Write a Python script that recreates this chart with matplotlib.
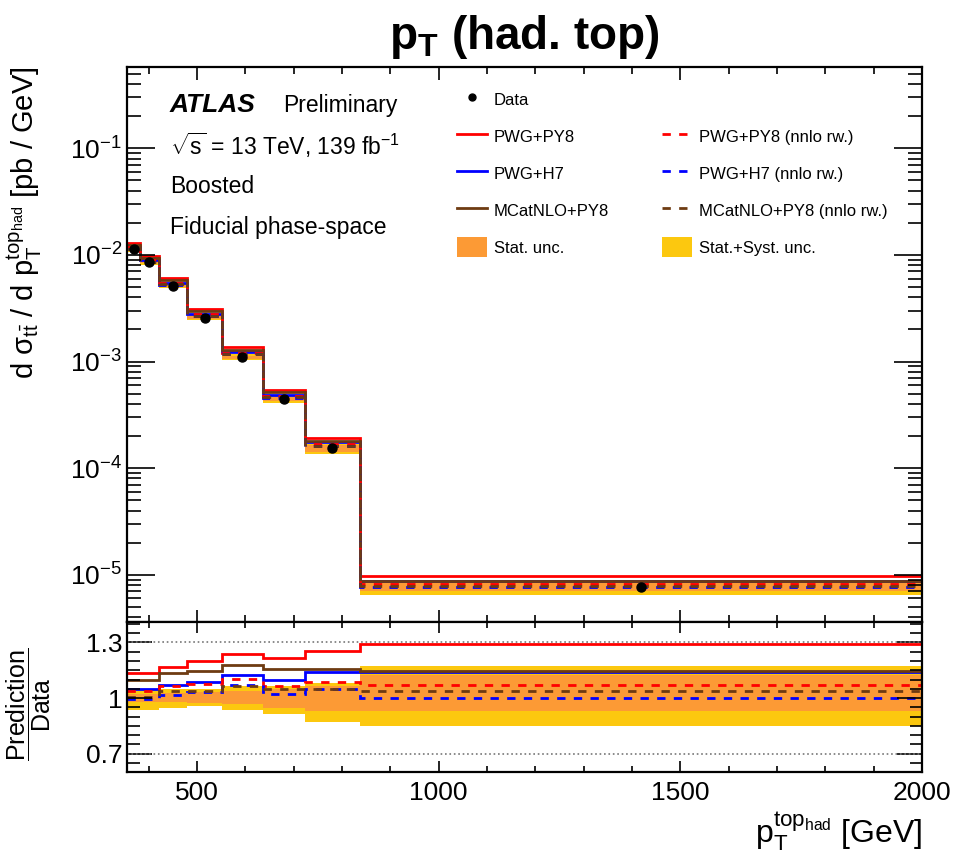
import numpy as np
import matplotlib
matplotlib.use("Agg")
import matplotlib.pyplot as plt
from matplotlib.lines import Line2D
from matplotlib.patches import Patch
from matplotlib.ticker import MultipleLocator, LogLocator, NullFormatter, FixedLocator

plt.rcParams['font.family'] = ['Liberation Sans', 'DejaVu Sans']
plt.rcParams['mathtext.fontset'] = 'custom'
plt.rcParams['mathtext.rm'] = 'Liberation Sans'
plt.rcParams['mathtext.it'] = 'Liberation Sans:italic'
plt.rcParams['mathtext.bf'] = 'Liberation Sans:bold'
plt.rcParams['mathtext.default'] = 'regular'

# bin edges of top pT [GeV]
edges = [355, 382, 421, 480, 551, 636, 723, 837, 2000]

# measured cross-section [pb/GeV]
data = [0.01138, 0.00855, 0.00515, 0.00258, 0.001096, 4.46e-4, 1.54e-4, 7.6e-6]

# prediction / data ratios
r_pwg_py8 = [1.133, 1.133, 1.167, 1.199, 1.240, 1.216, 1.252, 1.293]
r_pwg_h7 = [1.051, 1.051, 1.069, 1.086, 1.124, 1.100, 1.142, 1.140]
r_mc_py8 = [1.100, 1.100, 1.136, 1.145, 1.177, 1.159, 1.159, 1.145]
r_pwg_py8_nnlo = [1.038, 1.038, 1.065, 1.077, 1.104, 1.065, 1.086, 1.069]
r_pwg_h7_nnlo = [0.994, 0.994, 1.015, 1.033, 1.069, 1.024, 1.051, 1.002]
r_mc_py8_nnlo = [1.003, 1.003, 1.038, 1.038, 1.065, 1.047, 1.051, 1.038]

# relative uncertainties (up / down)
stat_up = [0.020, 0.020, 0.025, 0.030, 0.038, 0.047, 0.065, 0.127]
stat_dn = [0.020, 0.020, 0.022, 0.024, 0.033, 0.051, 0.070, 0.069]
tot_up = [0.042, 0.042, 0.047, 0.050, 0.065, 0.065, 0.083, 0.172]
tot_dn = [0.063, 0.063, 0.051, 0.045, 0.063, 0.086, 0.127, 0.152]

c_red = '#ff0000'
c_blue = '#0000ff'
c_brown = '#6e3b12'
c_stat = '#fc9a35'
c_tot = '#fcc80f'

data = np.array(data)
centers = 0.5 * (np.array(edges[:-1]) + np.array(edges[1:]))

fig = plt.figure(figsize=(9.55, 8.58), dpi=100)
ax = fig.add_axes([0.133, 0.275, 0.8325, 0.647])
axr = fig.add_axes([0.133, 0.1, 0.8325, 0.175], sharex=ax)

models = [
    (r_pwg_py8, c_red, '-', 'PWG+PY8'),
    (r_pwg_h7, c_blue, '-', 'PWG+H7'),
    (r_mc_py8, c_brown, '-', 'MCatNLO+PY8'),
    (r_pwg_py8_nnlo, c_red, (0, (3, 3)), 'PWG+PY8 (nnlo rw.)'),
    (r_pwg_h7_nnlo, c_blue, (0, (3, 3)), 'PWG+H7 (nnlo rw.)'),
    (r_mc_py8_nnlo, c_brown, (0, (3, 3)), 'MCatNLO+PY8 (nnlo rw.)'),
]

# main panel
ax.stairs(data * (1 + np.array(tot_up)), edges, baseline=data * (1 - np.array(tot_dn)),
          fill=True, color=c_tot, lw=0)
ax.stairs(data * (1 + np.array(stat_up)), edges, baseline=data * (1 - np.array(stat_dn)),
          fill=True, color=c_stat, lw=0)
for r, c, ls, lab in models:
    ax.stairs(data * np.array(r), edges, baseline=None, color=c, ls=ls, lw=2)
ax.plot(centers, data, 'o', color='black', ms=6.5, zorder=5)

ax.set_yscale('log')
ax.set_ylim(3.6e-6, 0.58)
ax.set_xlim(355, 2000)
ax.yaxis.set_major_locator(LogLocator(base=10, numticks=20))
ax.yaxis.set_minor_locator(LogLocator(base=10, subs=np.arange(2, 10), numticks=20))
ax.yaxis.set_minor_formatter(NullFormatter())
ax.tick_params(labelbottom=False)
ax.set_ylabel(r'd $\sigma_{t\bar{t}}$ / d $p_{T}^{top_{had}}$ [pb / GeV]', fontsize=21, loc='top')
ax.yaxis.set_label_coords(-0.105, 1.0)

# ratio panel
axr.stairs(1 + np.array(tot_up), edges, baseline=1 - np.array(tot_dn), fill=True, color=c_tot, lw=0)
axr.stairs(1 + np.array(stat_up), edges, baseline=1 - np.array(stat_dn), fill=True, color=c_stat, lw=0)
for r, c, ls, lab in models:
    axr.stairs(r, edges, baseline=None, color=c, ls=ls, lw=2)
for yv in [0.7, 1.3]:
    axr.axhline(yv, color='#777777', ls=':', lw=1.2)
axr.set_ylim(0.6, 1.41)
axr.yaxis.set_major_locator(FixedLocator([0.7, 1.0, 1.3]))
axr.yaxis.set_minor_locator(MultipleLocator(0.05))
axr.set_yticklabels(['0.7', '1', '1.3'])
axr.xaxis.set_major_locator(MultipleLocator(500))
axr.xaxis.set_minor_locator(MultipleLocator(100))
axr.set_ylabel(r'$\dfrac{Prediction}{Data}$', fontsize=18)
axr.yaxis.set_label_coords(-0.093, 0.45)
axr.set_xlabel(r'$p_{T}^{top_{had}}$ [GeV]', fontsize=23, loc='right')

for a in (ax, axr):
    a.tick_params(which='both', direction='in', top=True, right=True, labelsize=19, width=1.2)
    for s in a.spines.values():
        s.set_linewidth(1.6)
ax.tick_params(axis='y', which='major', length=20)
ax.tick_params(axis='y', which='minor', length=10)
ax.tick_params(axis='x', which='major', length=9)
ax.tick_params(axis='x', which='minor', length=5)
axr.tick_params(axis='y', which='major', length=18)
axr.tick_params(axis='y', which='minor', length=9)
axr.tick_params(axis='x', which='major', length=8)
axr.tick_params(axis='x', which='minor', length=4)
axr.tick_params(axis='x', pad=6)

# labels
ax.text(0.054, 0.931, 'ATLAS', transform=ax.transAxes, fontsize=19, fontweight='bold',
        style='italic', va='center')
ax.text(0.196, 0.931, 'Preliminary', transform=ax.transAxes, fontsize=16.5, va='center')
ax.text(0.054, 0.859, r'$\sqrt{s}$ = 13 TeV, 139 fb$^{-1}$', transform=ax.transAxes, fontsize=16.5, va='center')
ax.text(0.054, 0.784, 'Boosted', transform=ax.transAxes, fontsize=16.5, va='center')
ax.text(0.054, 0.710, 'Fiducial phase-space', transform=ax.transAxes, fontsize=16.5, va='center')

fig.text(0.549, 0.957, r'$\mathbf{p_T}$ (had. top)', fontsize=33, fontweight='bold',
         ha='center', va='center')

# legend
h_data = Line2D([], [], marker='o', color='black', ls='none', ms=5)
h_blank = Line2D([], [], ls='none')
col1 = [h_data] + [Line2D([], [], color=c, ls=ls, lw=2) for r, c, ls, lab in models[:3]] \
    + [Patch(color=c_stat, lw=0)]
lab1 = ['Data'] + [m[3] for m in models[:3]] + ['Stat. unc.']
col2 = [h_blank] + [Line2D([], [], color=c, ls=ls, lw=2) for r, c, ls, lab in models[3:]] \
    + [Patch(color=c_tot, lw=0)]
lab2 = [''] + [m[3] for m in models[3:]] + ['Stat.+Syst. unc.']
leg_kw = dict(frameon=False, fontsize=12, handlelength=1.8, handleheight=1.5,
              labelspacing=1.0, handletextpad=0.4, borderpad=0, borderaxespad=0,
              loc='upper left')
leg1 = ax.legend(col1, lab1, bbox_to_anchor=(0.415, 0.96), **leg_kw)
ax.add_artist(leg1)
ax.legend(col2, lab2, bbox_to_anchor=(0.673, 0.96), **leg_kw)

fig.savefig('out.png', dpi=100)
